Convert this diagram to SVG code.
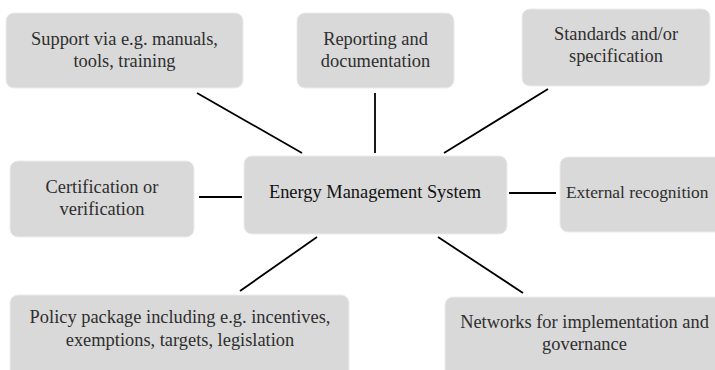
<svg xmlns="http://www.w3.org/2000/svg" width="715" height="370" viewBox="0 0 715 370">
<style>
.box{fill:#d9d9d9;stroke:#ececec;stroke-width:1}
.lbl{font-family:'Liberation Serif','DejaVu Serif',serif;font-size:18.4px;fill:#2e2e2e;text-anchor:middle}
.core{fill:#111}
.ln{stroke:#000;stroke-width:1.8;fill:none}
</style>
<rect width="715" height="370" fill="#fff"/>
<g id="connectors">
<line class="ln" x1="197" y1="93" x2="302" y2="153"/>
<line class="ln" x1="375" y1="93" x2="375" y2="153"/>
<line class="ln" x1="548" y1="89" x2="444" y2="153"/>
<line class="ln" x1="199" y1="197" x2="242" y2="197"/>
<line class="ln" x1="509" y1="193" x2="556" y2="193"/>
<line class="ln" x1="317" y1="237" x2="240" y2="291"/>
<line class="ln" x1="438" y1="237" x2="523" y2="293"/>
</g>
<g id="support">
<rect class="box" x="6" y="13" width="237" height="75" rx="8"/>
<text class="lbl" x="124.5" y="45">Support via e.g. manuals,</text>
<text class="lbl" x="124.5" y="67">tools, training</text>
</g>
<g id="reporting">
<rect class="box" x="297" y="13" width="157" height="75" rx="8"/>
<text class="lbl" x="375.5" y="45">Reporting and</text>
<text class="lbl" x="375.5" y="67">documentation</text>
</g>
<g id="standards">
<rect class="box" x="522" y="9" width="188" height="77" rx="8"/>
<text class="lbl" x="616" y="40">Standards and/or</text>
<text class="lbl" x="616" y="62">specification</text>
</g>
<g id="certification">
<rect class="box" x="10" y="161" width="184" height="76" rx="8"/>
<text class="lbl" x="102" y="193">Certification or</text>
<text class="lbl" x="102" y="215">verification</text>
</g>
<g id="ems">
<rect class="box" x="244" y="156" width="263" height="78" rx="8"/>
<text class="lbl core" x="375" y="198">Energy Management System</text>
</g>
<g id="external">
<rect class="box" x="560" y="157" width="170" height="75" rx="8"/>
<text class="lbl" x="566" y="198" style="text-anchor:start;font-size:17.4px">External recognition</text>
</g>
<g id="policy">
<rect class="box" x="10" y="295" width="339" height="85" rx="8"/>
<text class="lbl" x="180" y="323">Policy package including e.g. incentives,</text>
<text class="lbl" x="180" y="346">exemptions, targets, legislation</text>
</g>
<g id="networks">
<rect class="box" x="445" y="297" width="280" height="85" rx="8"/>
<text class="lbl" x="584.5" y="328">Networks for implementation and</text>
<text class="lbl" x="584.5" y="350">governance</text>
</g>
</svg>
